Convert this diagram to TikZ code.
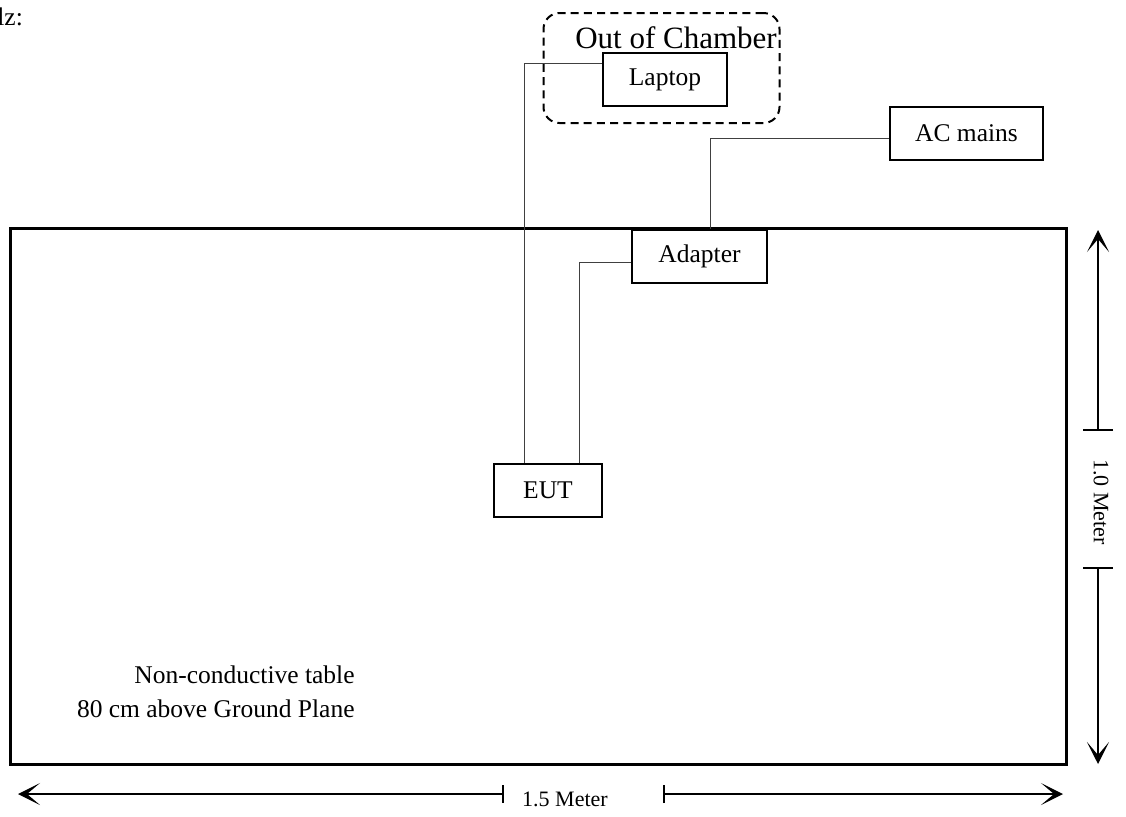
\documentclass[tikz,border=0pt]{standalone}
\usepackage{fontspec}
\setmainfont{Liberation Serif}
\usetikzlibrary{arrows.meta}
\begin{document}
\begin{tikzpicture}
[x=0.5pt,y=-0.5pt,%
 boxdecorate/.style={shape=rectangle,draw,line width=1pt,minimum height=26.5pt,inner sep=0pt,font=\fontsize{12.75}{15}\selectfont},%
 chamberdecorate/.style={shape=rectangle,draw,line width=1pt,dash pattern=on 4pt off 2.6pt,rounded corners=8pt,minimum width=118pt,minimum height=55pt},%
 tabledecorate/.style={draw,line width=1.5pt},%
 wiredecorate/.style={-,line width=0.5pt,draw=black!75},%
 dimdecorate/.style={line width=0.7pt,{Bar[width=#1,line width=0.8pt]}-{Stealth[length=11pt,width=11pt,inset=6.5pt]}},%
 dimdecorate/.default=9pt,%
 textdecorate/.style={inner sep=0pt,font=\fontsize{12.75}{15}\selectfont},%
 dimtext/.style={inner sep=0pt,font=\fontsize{11}{13}\selectfont}]
\useasboundingbox (0,0) rectangle (1126,816);
%% table and chamber
\draw[tabledecorate] (10,228) rectangle (1066,764);
\node (Chamber) at (661.5,68) [chamberdecorate] {};
\node (ChamberText) at (676,38) [inner sep=0pt,font=\fontsize{15.5}{18}\selectfont] {Out of Chamber};
%% nodes or vertices
\foreach \nodename/\x/\y/\w/\nodetext in {Laptop/665/79.5/62/Laptop,
 ACmains/966.5/133.5/76.5/AC mains, Adapter/699.5/256.5/67.5/Adapter,
 EUT/548/490.5/54/EUT}
{
  \node (\nodename) at (\x,\y) [boxdecorate,minimum width=\w pt] {\nodetext};
}
%% edges or lines
\draw[wiredecorate] ([yshift=8.25pt]Laptop.west) -| ([xshift=-12pt]EUT.north);
\draw[wiredecorate] ([yshift=-2.75pt]Adapter.west) -| ([xshift=15.5pt]EUT.north);
\draw[wiredecorate] ([yshift=-2.25pt]ACmains.west) -| ([xshift=5.25pt]Adapter.north);
%% labels
\node (TableText) at (355,692) [textdecorate,anchor=east,align=right] {Non-conductive table\\[2pt]80 cm above Ground Plane};
\node (Cut) at (-3,25) [textdecorate,anchor=base west] {lz:};
%% dimensions
\coordinate (VTop) at (1098,230);
\coordinate (VTickA) at (1098,431);
\coordinate (VTickB) at (1098,567);
\coordinate (VBottom) at (1098,764);
\coordinate (HLeft) at (18,794);
\coordinate (HTickA) at (504,794);
\coordinate (HTickB) at (663,794);
\coordinate (HRight) at (1063,794);
\draw[dimdecorate=15pt] (VTickA) -- (VTop);
\draw[dimdecorate=15pt] (VTickB) -- (VBottom);
\draw[dimdecorate] (HTickA) -- (HLeft);
\draw[dimdecorate] (HTickB) -- (HRight);
\node (VText) at (1101,502) [dimtext,rotate=-90] {1.0 Meter};
\node (HText) at (565,799) [dimtext] {1.5 Meter};
\end{tikzpicture}
\end{document}
